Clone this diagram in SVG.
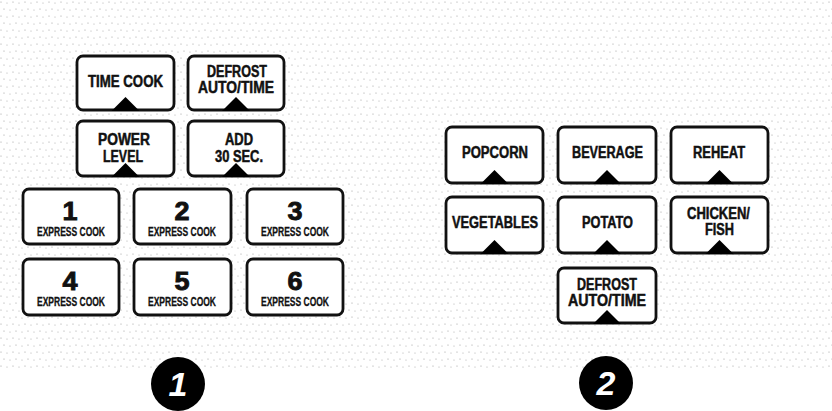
<svg xmlns="http://www.w3.org/2000/svg" xmlns:xlink="http://www.w3.org/1999/xlink" width="832" height="411" viewBox="0 0 832 411">
<style>
.b{fill:#fff;stroke:#111;stroke-width:2.8}
.t{font-family:"Liberation Sans",Arial,sans-serif;font-weight:bold;font-size:16px;text-anchor:middle;fill:#111;stroke:#111;stroke-width:0.5}
.n{font-size:26px;stroke-width:0.9}
.s{font-size:12px;stroke-width:0.3}
.c{fill:#000}
.ct{font-family:"Liberation Sans",Arial,sans-serif;font-weight:bold;font-style:italic;font-size:34px;text-anchor:middle;fill:#fff}
</style>
<defs>
<pattern id="dots" width="12" height="14" patternUnits="userSpaceOnUse">
<circle cx="1" cy="2" r="0.6" fill="#999"/>
<circle cx="7" cy="3" r="0.6" fill="#aaa"/>
<circle cx="4" cy="9" r="0.6" fill="#999"/>
<circle cx="10" cy="10" r="0.6" fill="#aaa"/>
</pattern>
<path id="tri" d="M-14,1 L0,-13 L14,1 Z" fill="#000"/>
</defs>
<rect width="832" height="411" fill="#fff"/>
<rect x="0" y="0" width="832" height="370" fill="url(#dots)"/>

<g id="time-cook"><rect class="b" x="77" y="56" width="97" height="54" rx="6"/><use href="#tri" x="125.5" y="110"/><text class="t" x="125.5" y="87" textLength="75" lengthAdjust="spacingAndGlyphs">TIME COOK</text></g>
<g id="defrost-left"><rect class="b" x="188" y="56" width="96" height="54" rx="6"/><use href="#tri" x="236" y="110"/><text class="t" x="237" y="77" textLength="60" lengthAdjust="spacingAndGlyphs">DEFROST</text><text class="t" x="236" y="93" textLength="76" lengthAdjust="spacingAndGlyphs">AUTO/TIME</text></g>
<g id="power-level"><rect class="b" x="77" y="121" width="97" height="55" rx="6"/><use href="#tri" x="125.5" y="176"/><text class="t" x="124" y="145" textLength="52" lengthAdjust="spacingAndGlyphs">POWER</text><text class="t" x="123" y="162" textLength="40" lengthAdjust="spacingAndGlyphs">LEVEL</text></g>
<g id="add-30"><rect class="b" x="188" y="121" width="96" height="55" rx="6"/><use href="#tri" x="236" y="176"/><text class="t" x="239" y="145" textLength="28" lengthAdjust="spacingAndGlyphs">ADD</text><text class="t" x="239" y="162" textLength="48" lengthAdjust="spacingAndGlyphs">30 SEC.</text></g>

<g id="ec1"><rect class="b" x="23" y="189" width="96" height="55" rx="6"/><text class="t n" x="70" y="220" textLength="15" lengthAdjust="spacingAndGlyphs">1</text><text class="t s" x="71" y="236" textLength="68" lengthAdjust="spacingAndGlyphs">EXPRESS COOK</text></g>
<g id="ec2"><rect class="b" x="134" y="189" width="97" height="55" rx="6"/><text class="t n" x="182" y="220" textLength="15" lengthAdjust="spacingAndGlyphs">2</text><text class="t s" x="182" y="236" textLength="68" lengthAdjust="spacingAndGlyphs">EXPRESS COOK</text></g>
<g id="ec3"><rect class="b" x="247" y="189" width="96" height="55" rx="6"/><text class="t n" x="295" y="220" textLength="15" lengthAdjust="spacingAndGlyphs">3</text><text class="t s" x="295" y="236" textLength="68" lengthAdjust="spacingAndGlyphs">EXPRESS COOK</text></g>
<g id="ec4"><rect class="b" x="23" y="259" width="96" height="56" rx="6"/><text class="t n" x="70" y="290" textLength="15" lengthAdjust="spacingAndGlyphs">4</text><text class="t s" x="71" y="306" textLength="68" lengthAdjust="spacingAndGlyphs">EXPRESS COOK</text></g>
<g id="ec5"><rect class="b" x="134" y="259" width="97" height="56" rx="6"/><text class="t n" x="182" y="290" textLength="15" lengthAdjust="spacingAndGlyphs">5</text><text class="t s" x="182" y="306" textLength="68" lengthAdjust="spacingAndGlyphs">EXPRESS COOK</text></g>
<g id="ec6"><rect class="b" x="247" y="259" width="96" height="56" rx="6"/><text class="t n" x="295" y="290" textLength="15" lengthAdjust="spacingAndGlyphs">6</text><text class="t s" x="295" y="306" textLength="68" lengthAdjust="spacingAndGlyphs">EXPRESS COOK</text></g>

<g id="popcorn"><rect class="b" x="446" y="127" width="97" height="56" rx="6"/><use href="#tri" x="494.5" y="183"/><text class="t" x="495" y="158" textLength="66" lengthAdjust="spacingAndGlyphs">POPCORN</text></g>
<g id="beverage"><rect class="b" x="558" y="127" width="98" height="56" rx="6"/><use href="#tri" x="607" y="183"/><text class="t" x="607.5" y="158" textLength="71" lengthAdjust="spacingAndGlyphs">BEVERAGE</text></g>
<g id="reheat"><rect class="b" x="671" y="127" width="97" height="56" rx="6"/><use href="#tri" x="719.5" y="183"/><text class="t" x="719" y="158" textLength="52" lengthAdjust="spacingAndGlyphs">REHEAT</text></g>
<g id="vegetables"><rect class="b" x="446" y="197" width="97" height="56" rx="6"/><use href="#tri" x="494.5" y="253"/><text class="t" x="495" y="228" textLength="86" lengthAdjust="spacingAndGlyphs">VEGETABLES</text></g>
<g id="potato"><rect class="b" x="558" y="197" width="98" height="56" rx="6"/><use href="#tri" x="607" y="253"/><text class="t" x="607.5" y="228" textLength="51" lengthAdjust="spacingAndGlyphs">POTATO</text></g>
<g id="chicken-fish"><rect class="b" x="671" y="197" width="97" height="56" rx="6"/><use href="#tri" x="719.5" y="253"/><text class="t" x="718.5" y="219" textLength="63" lengthAdjust="spacingAndGlyphs">CHICKEN/</text><text class="t" x="719.5" y="235" textLength="29" lengthAdjust="spacingAndGlyphs">FISH</text></g>
<g id="defrost-right"><rect class="b" x="558" y="268" width="98" height="55" rx="6"/><use href="#tri" x="607" y="323"/><text class="t" x="607" y="290" textLength="60" lengthAdjust="spacingAndGlyphs">DEFROST</text><text class="t" x="607" y="306" textLength="78" lengthAdjust="spacingAndGlyphs">AUTO/TIME</text></g>

<g id="badge1"><circle class="c" cx="178" cy="384" r="27"/><text class="ct" x="178" y="396">1</text></g>
<g id="badge2"><circle class="c" cx="606" cy="383" r="27"/><text class="ct" x="606" y="395">2</text></g>
<g id="connectors"></g>
</svg>
